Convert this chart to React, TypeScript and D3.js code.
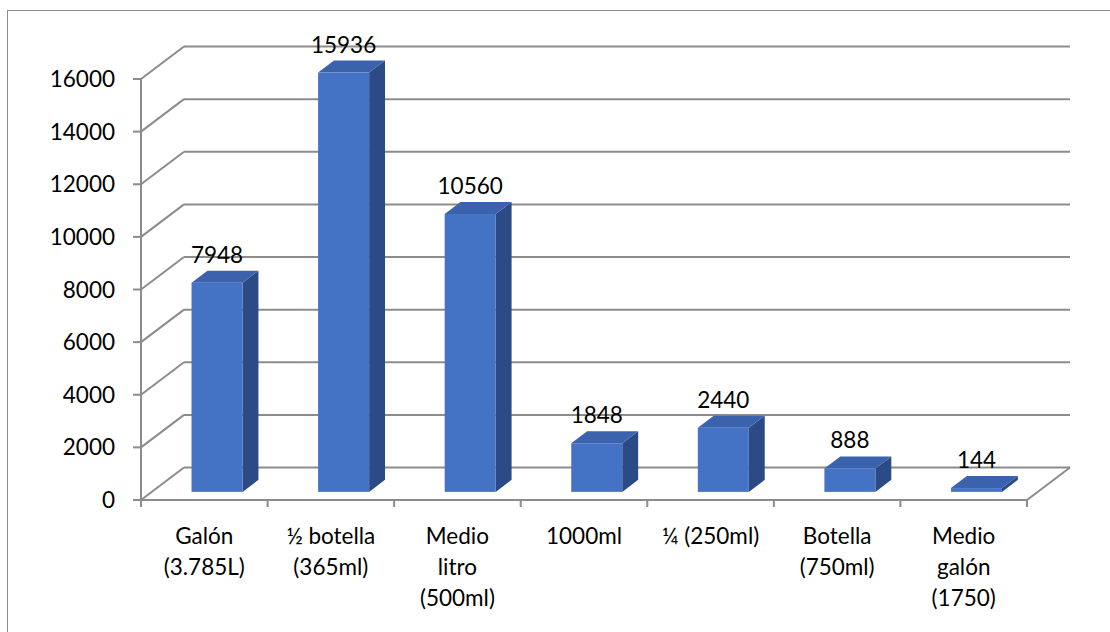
import React, { useEffect, useRef } from "react";
import * as d3 from "d3";

const categories = [
  ["Galón", "(3.785L)"],
  ["½ botella", "(365ml)"],
  ["Medio", "litro", "(500ml)"],
  ["1000ml"],
  ["¼ (250ml)"],
  ["Botella", "(750ml)"],
  ["Medio", "galón", "(1750)"],
];
const values = [7948, 15936, 10560, 1848, 2440, 888, 144];
const yTicks = [0, 2000, 4000, 6000, 8000, 10000, 12000, 14000, 16000];

const W = 1110;
const H = 632;
const FONT = "Lato, 'Open Sans', sans-serif";

const App = () => {
  const svgRef = useRef<SVGSVGElement>(null);

  useEffect(() => {
    const svg = d3.select(svgRef.current);
    svg.selectAll("*").remove();

    const left = 141;
    const right = 1027;
    const depthX = 43;
    const depthY = -32.5;
    const grid = "#8c8c8c";

    const x = d3
      .scaleBand<number>()
      .domain(d3.range(categories.length))
      .range([left, right]);
    const y = d3.scaleLinear().domain([0, 16000]).range([500, 79]);

    // border
    svg
      .append("rect")
      .attr("x", 7.5)
      .attr("y", 10.5)
      .attr("width", W + 20)
      .attr("height", H + 20)
      .attr("fill", "white")
      .attr("stroke", grid)
      .attr("stroke-width", 1);

    // back wall gridlines + side wall diagonals
    const g = svg.append("g").attr("fill", "none").attr("stroke", grid).attr("stroke-width", 2);
    yTicks.forEach((t) => {
      g.append("line")
        .attr("x1", left + depthX)
        .attr("x2", right + depthX)
        .attr("y1", y(t) + depthY)
        .attr("y2", y(t) + depthY);
      g.append("line")
        .attr("x1", left)
        .attr("x2", left + depthX)
        .attr("y1", y(t))
        .attr("y2", y(t) + depthY);
    });
    // floor front edge and right edge
    g.append("line").attr("x1", left).attr("x2", right).attr("y1", y(0)).attr("y2", y(0));
    g.append("line")
      .attr("x1", right)
      .attr("x2", right + depthX)
      .attr("y1", y(0))
      .attr("y2", y(0) + depthY);
    // value axis
    g.append("line").attr("x1", left).attr("x2", left).attr("y1", y(16000)).attr("y2", y(0));
    yTicks.forEach((t) => {
      g.append("line").attr("x1", left - 8).attr("x2", left).attr("y1", y(t)).attr("y2", y(t));
    });
    // category ticks
    d3.range(categories.length + 1).forEach((i) => {
      const xx = left + i * x.bandwidth();
      g.append("line").attr("x1", xx).attr("x2", xx).attr("y1", y(0)).attr("y2", y(0) + 7);
    });

    // y labels
    svg
      .append("g")
      .selectAll("text")
      .data(yTicks)
      .join("text")
      .attr("x", 115)
      .attr("y", (d) => y(d) + 8)
      .attr("text-anchor", "end")
      .attr("font-family", FONT)
      .attr("font-size", 22.5)
      .attr("fill", "#000")
      .text((d) => d);

    // bars
    const f0 = 0.25;
    const f1 = 0.62;
    const bw = 51;
    const bars = svg.append("g");
    values.forEach((v, i) => {
      const cx = (x(i) as number) + x.bandwidth() / 2;
      const x0 = cx - bw / 2 + depthX * f0 + 2;
      const x1 = x0 + bw;
      const yb = y(0) + depthY * f0;
      const yt = y(v) + depthY * f0;
      const ddx = depthX * (f1 - f0);
      const ddy = depthY * (f1 - f0);
      bars
        .append("path")
        .attr("d", `M${x1},${yb}L${x1 + ddx},${yb + ddy}L${x1 + ddx},${yt + ddy}L${x1},${yt}Z`)
        .attr("fill", "#2c4a86");
      bars
        .append("path")
        .attr("d", `M${x0},${yt}L${x1},${yt}L${x1 + ddx},${yt + ddy}L${x0 + ddx},${yt + ddy}Z`)
        .attr("fill", "#3b62ac");
      bars
        .append("rect")
        .attr("x", x0)
        .attr("y", yt)
        .attr("width", bw)
        .attr("height", yb - yt)
        .attr("fill", "#4472c4");
      svg
        .append("text")
        .attr("x", x0 + bw / 2)
        .attr("y", yt + ddy - 8)
        .attr("text-anchor", "middle")
        .attr("font-family", FONT)
        .attr("font-size", 22.5)
        .attr("fill", "#000")
        .text(v);
    });

    // category labels
    categories.forEach((lines, i) => {
      const cx = (x(i) as number) + x.bandwidth() / 2;
      const t = svg
        .append("text")
        .attr("text-anchor", "middle")
        .attr("font-family", FONT)
        .attr("font-size", 22.5)
        .attr("fill", "#000");
      lines.forEach((ln, k) => {
        t.append("tspan")
          .attr("x", cx)
          .attr("y", 544 + k * 31)
          .text(ln);
      });
    });
  }, []);

  return (
    <svg
      ref={svgRef}
      width={W}
      height={H}
      style={{ position: "absolute", left: 0, top: 0, background: "white" }}
    />
  );
};

export default App;
